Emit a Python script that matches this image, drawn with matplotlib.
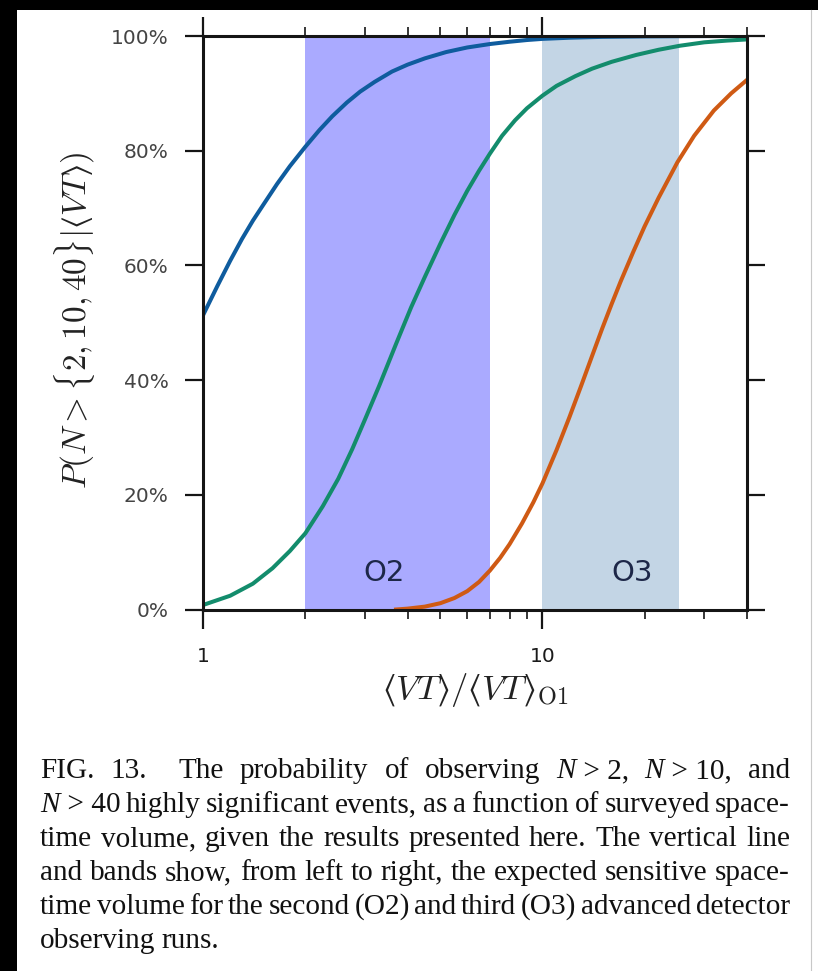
import matplotlib
matplotlib.use("Agg")
import matplotlib.pyplot as plt
from matplotlib.patches import Rectangle
from matplotlib.lines import Line2D
from matplotlib.ticker import FixedLocator, NullFormatter

plt.rcParams['mathtext.fontset'] = 'cm'
plt.rcParams['font.family'] = ['DejaVu Sans']

# ---- data -------------------------------------------------------------
vt_n2 = [1.0, 1.1, 1.2, 1.3, 1.4, 1.5, 1.65, 1.8, 2.0, 2.2, 2.4, 2.65, 2.9,
         3.2, 3.6, 4.0, 4.5, 5.2, 6.0, 7.0, 8.0, 9.0, 10, 12, 15, 20, 28, 40]
p_n2 = [51.4, 56.4, 60.8, 64.6, 67.8, 70.5, 74.2, 77.3, 80.7, 83.6, 86.0,
        88.4, 90.3, 92.0, 93.8, 95.0, 96.1, 97.2, 98.0, 98.6, 99.0, 99.3,
        99.5, 99.7, 99.85, 99.93, 99.98, 100.0]

vt_n10 = [1.0, 1.2, 1.4, 1.6, 1.8, 2.0, 2.25, 2.5, 2.75, 3.0, 3.3, 3.7, 4.1,
          4.5, 5.0, 5.5, 6.0, 6.5, 7.0, 7.6, 8.3, 9.0, 10, 11, 12.5, 14, 16,
          18.9, 22, 25.4, 30, 35, 40]
p_n10 = [0.8, 2.4, 4.5, 7.2, 10.2, 13.3, 18.0, 22.8, 28.0, 33.2, 39.0, 46.3,
         52.7, 58.0, 63.8, 68.8, 73.0, 76.5, 79.5, 82.6, 85.3, 87.4, 89.6,
         91.3, 93.0, 94.3, 95.5, 96.7, 97.6, 98.3, 98.9, 99.2, 99.4]

vt_n40 = [3.7, 4.0, 4.5, 5.0, 5.5, 6.0, 6.5, 7.0, 7.5, 8.0, 8.7, 9.4, 10,
          11, 12, 13, 14, 15, 16, 17, 18.5, 20, 22, 25, 28, 32, 36, 40]
p_n40 = [0.0, 0.15, 0.5, 1.1, 2.0, 3.2, 4.8, 6.8, 9.0, 11.4, 15.0, 18.7,
         22.0, 27.8, 33.5, 39.0, 44.2, 49.0, 53.3, 57.2, 62.3, 66.8, 71.8,
         78.0, 82.6, 87.0, 90.0, 92.3]

run_names = ['O2', 'O3']
run_lo = [2.0, 10.0]
run_hi = [7.0, 25.3]
run_label_x = [3.4, 18.4]

x_ticks = [1, 10]
x_tick_labels = ['1', '10']
x_minor = [2, 3, 4, 5, 6, 7, 8, 9, 20, 30, 40]
y_ticks = [0, 20, 40, 60, 80, 100]
y_tick_labels = ['0%', '20%', '40%', '60%', '80%', '100%']

caption_lines = [
    "FIG. 13. ^The probability of observing *N*~>~2, *N*~>~10, and",
    "*N*~>~40 highly significant events, as a function of surveyed space-",
    "time volume, given the results presented here. The vertical line",
    "and bands show, from left to right, the expected sensitive space-",
    "time volume for the second (O2) and third (O3) advanced detector",
    "observing runs.",
]

# ---- figure -----------------------------------------------------------
W, H, DPI = 818, 971, 100
fig = plt.figure(figsize=(W / DPI, H / DPI), dpi=DPI)
fig.patch.set_facecolor('white')

# dark frame along the left and top edges
fig.patches.append(Rectangle((0, 0), 17 / W, 1, transform=fig.transFigure,
                             facecolor='black', edgecolor='none', zorder=-5))
fig.patches.append(Rectangle((0, 1 - 10 / H), 1, 10 / H, transform=fig.transFigure,
                             facecolor='black', edgecolor='none', zorder=-5))
fig.lines.append(Line2D([811 / W, 811 / W], [0, 1 - 10 / H], transform=fig.transFigure,
                        color='#c8c8c8', lw=0.8))

ax_l, ax_r, ax_t, ax_b = 203.3, 746.7, 36.0, 609.5
ax = fig.add_axes([ax_l / W, 1 - ax_b / H, (ax_r - ax_l) / W, (ax_b - ax_t) / H])

band_colors = ['#aaaaff', '#c3d5e5']
for lo, hi, c in zip(run_lo, run_hi, band_colors):
    ax.axvspan(lo, hi, color=c, lw=0, zorder=0)
for name, xl in zip(run_names, run_label_x):
    ax.text(xl, 6.4, name, ha='center', va='center', fontsize=21,
            color='#1d2748', zorder=1)

ax.plot(vt_n2, p_n2, color='#0f5c9e', lw=2.9, zorder=3)
ax.plot(vt_n10, p_n10, color='#138c6c', lw=2.9, zorder=3)
ax.plot(vt_n40, p_n40, color='#cf5a14', lw=2.9, zorder=3)

ax.set_xscale('log')
ax.set_xlim(1, 40)
ax.set_ylim(0, 100)

ax.xaxis.set_major_locator(FixedLocator(x_ticks))
ax.xaxis.set_minor_locator(FixedLocator(x_minor))
ax.xaxis.set_minor_formatter(NullFormatter())
ax.set_xticklabels(x_tick_labels)
ax.set_yticks(y_ticks)
ax.set_yticklabels(y_tick_labels)

for s in ax.spines.values():
    s.set_linewidth(2.2)
    s.set_color('#151515')
    s.set_zorder(4)

ax.tick_params(which='both', direction='out', top=True, right=True,
               labeltop=False, labelright=False, color='#151515')
ax.tick_params(axis='y', which='major', length=13, width=1.6, pad=12,
               labelsize=14.5, labelcolor='#444444')
ax.tick_params(axis='x', which='major', length=14, width=1.6, pad=13,
               labelsize=14.5, labelcolor='#1a1a1a')
ax.tick_params(axis='x', which='minor', length=6.5, width=1.2)

# angle brackets as plain unicode symbols keep them at text height
ax.text(-0.236, 0.505, "$P(N > \\{2, 10, 40\\}|\u27e8VT\u27e9)$",
        transform=ax.transAxes, rotation=90, ha='center', va='center',
        fontsize=24, color='#222222')
ax.text(0.5, -0.140, "$\u27e8VT\u27e9/\u27e8VT\u27e9_{\\mathrm{O1}}$",
        transform=ax.transAxes, ha='center', va='center',
        fontsize=25, color='#222222')

# ---- caption, justified between two margins ---------------------------
cap_x0, cap_x1 = 40.0, 790.0
cap_base0, cap_step = 778.0, 34.0
renderer = fig.canvas.get_renderer()


def make_words(line, size):
    words = []
    for raw in line.split(' '):
        weight = 1.0
        if raw.startswith('^'):
            weight = 2.0
            raw = raw[1:]
        segs = []
        for i, part in enumerate(raw.split('*')):
            if not part:
                continue
            t = fig.text(0, 0, part.replace('~', ' '), fontsize=size,
                         family='Liberation Serif', color='#111111',
                         style='italic' if i % 2 else 'normal',
                         ha='left', va='baseline')
            segs.append((t, t.get_window_extent(renderer).width))
        words.append((segs, weight))
    return words


def measure(line, size):
    ws = make_words(line, size)
    total = sum(w for segs, _ in ws for _, w in segs)
    for segs, _ in ws:
        for t, _ in segs:
            t.remove()
    return total, len(ws)


cap_size = 24.0
for line in caption_lines[:-1]:
    total, n = measure(line, cap_size)
    min_gap = 0.17 * cap_size * DPI / 72
    need = total + (n - 1) * min_gap
    if need > cap_x1 - cap_x0:
        cap_size *= (cap_x1 - cap_x0) / need

for k, line in enumerate(caption_lines):
    words = make_words(line, cap_size)
    widths = [sum(w for _, w in segs) for segs, _ in words]
    weights = [wt for _, wt in words[1:]]
    if k < len(caption_lines) - 1:
        unit = (cap_x1 - cap_x0 - sum(widths)) / sum(weights)
    else:
        unit = 0.22 * cap_size * DPI / 72
    x = cap_x0
    y = 1 - (cap_base0 + k * cap_step) / H
    for i, (segs, wt) in enumerate(words):
        if i > 0:
            x += unit * wt
        for t, w in segs:
            t.set_position((x / W, y))
            x += w

fig.savefig('out.png', dpi=DPI, facecolor='white')
